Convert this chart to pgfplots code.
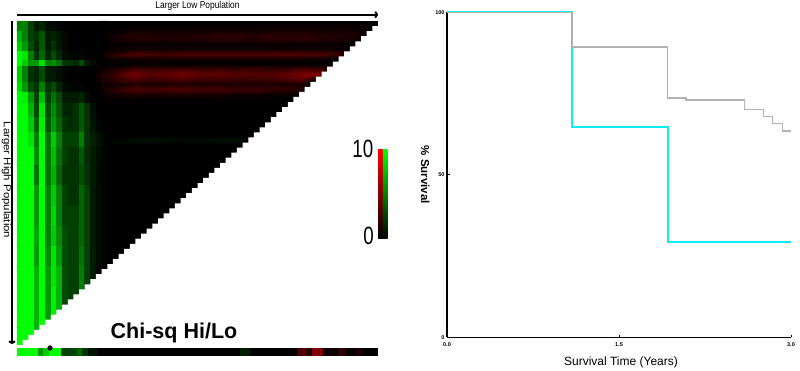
\documentclass[border=0pt]{standalone}
\usepackage{pgfplots}
\usepackage{fontspec}
\usepackage{graphicx}
\usetikzlibrary{arrows.meta}
\setmainfont{Liberation Sans}
\definecolor{cy}{RGB}{15,235,240}
\definecolor{gy}{RGB}{178,178,178}
\definecolor{rd}{RGB}{255,0,0}
\definecolor{gn}{RGB}{0,255,0}
\pgfplotsset{compat=1.18,
  colormap={gbr}{rgb255=(0,255,0) rgb255=(0,0,0) rgb255=(255,0,0)},
  colormap name=gbr}
\begin{document}
\begin{tikzpicture}[x=1pt,y=1pt]
\path[use as bounding box] (0,0) rectangle (800,371);
% heat map
\begin{axis}[at={(17pt,26pt)},anchor=south west,scale only axis,width=361pt,height=324pt,
  hide axis,xmin=-0.5,xmax=63.5,ymin=-0.5,ymax=63.5,y dir=reverse,clip=false,
  point meta min=-10,point meta max=10]
\addplot[fill=black,draw=none] coordinates {(-.5,-.5)(63.5,-.5)(63.5,63.5)(-.5,63.5)};
\addplot[matrix plot*,mesh/cols=16,point meta=explicit] table[row sep=crcr,x=x,y=y,meta=v]{
x y v\\
0 0.5 -5\\1 0.5 -5\\2 0.5 -2.5\\3 0.5 -1\\4 0.5 -1.5\\5 0.5 -.5\\6 0.5 -.5\\7 0.5 -.2\\8 0.5 0\\9 0.5 0\\10 0.5 0\\11 0.5 0\\12 0.5 0\\13 0.5 0\\14 0.5 0\\15 0.5 0\\
0 2.5 -7\\1 2.5 -5\\2 2.5 -2.5\\3 2.5 -2\\4 2.5 -3.5\\5 2.5 -1\\6 2.5 -1.5\\7 2.5 -.8\\8 2.5 -.3\\9 2.5 0\\10 2.5 0\\11 2.5 0\\12 2.5 0\\13 2.5 0\\14 2.5 0\\15 2.5 0\\
0 4.5 -8\\1 4.5 -6\\2 4.5 -3\\3 4.5 -1.5\\4 4.5 -3.5\\5 4.5 -1\\6 4.5 -2\\7 4.5 -1\\8 4.5 -.3\\9 4.5 0\\10 4.5 0\\11 4.5 0\\12 4.5 0\\13 4.5 0\\14 4.5 0\\15 4.5 0\\
0 6.5 -10\\1 6.5 -9\\2 6.5 -5\\3 6.5 -2\\4 6.5 -4\\5 6.5 -1.5\\6 6.5 -3\\7 6.5 -1.5\\8 6.5 -.5\\9 6.5 -.2\\10 6.5 -.2\\11 6.5 -.3\\12 6.5 0\\13 6.5 0\\14 6.5 0\\15 6.5 .3\\
0 8 -10\\1 8 -8\\2 8 -6\\3 8 -6\\4 8 -9\\5 8 -5\\6 8 -5.5\\7 8 -4.5\\8 8 -2\\9 8 -2\\10 8 -1.5\\11 8 -3\\12 8 -1\\13 8 -.5\\14 8 -.2\\15 8 0\\
0 9 -8\\1 9 -5\\2 9 -2\\3 9 -1.5\\4 9 -3\\5 9 -1\\6 9 -1\\7 9 -.5\\8 9 -.2\\9 9 0\\10 9 0\\11 9 0\\12 9 0\\13 9 0\\14 9 .3\\15 9 .5\\
0 10.5 -8\\1 10.5 -5\\2 10.5 -2\\3 10.5 -1.5\\4 10.5 -3\\5 10.5 -1\\6 10.5 -1\\7 10.5 -.5\\8 10.5 -.2\\9 10.5 0\\10 10.5 0\\11 10.5 0\\12 10.5 0\\13 10.5 0\\14 10.5 .5\\15 10.5 1.5\\
0 12.5 -8.5\\1 12.5 -6\\2 12.5 -3\\3 12.5 -2\\4 12.5 -5\\5 12.5 -2\\6 12.5 -3\\7 12.5 -1.5\\8 12.5 -.5\\9 12.5 -.2\\10 12.5 -.2\\11 12.5 -.2\\12 12.5 0\\13 12.5 0\\14 12.5 0\\15 12.5 .8\\
0 14.5 -10\\1 14.5 -9.5\\2 14.5 -6\\3 14.5 -2.5\\4 14.5 -7.5\\5 14.5 -2.5\\6 14.5 -4.5\\7 14.5 -3\\8 14.5 -1\\9 14.5 -1\\10 14.5 -1\\11 14.5 -1.5\\12 14.5 -.5\\13 14.5 0\\14 14.5 0\\15 14.5 0\\
0 17 -10\\1 17 -10\\2 17 -7\\3 17 -3\\4 17 -9\\5 17 -3\\6 17 -5.5\\7 17 -3.5\\8 17 -1.5\\9 17 -1.5\\10 17 -2\\11 17 -3.5\\12 17 -2\\13 17 -.5\\14 17 0\\15 17 0\\
0 20 -10\\1 20 -10\\2 20 -8\\3 20 -4\\4 20 -9.5\\5 20 -3.5\\6 20 -6\\7 20 -4\\8 20 -2\\9 20 -1.8\\10 20 -2\\11 20 -3.5\\12 20 -2\\13 20 -.7\\14 20 -.2\\15 20 0\\
0 23 -10\\1 23 -10\\2 23 -9\\3 23 -5\\4 23 -10\\5 23 -4.5\\6 23 -8\\7 23 -5\\8 23 -2.5\\9 23 -2.5\\10 23 -2.5\\11 23 -5\\12 23 -2\\13 23 -1.2\\14 23 -.7\\15 23 -.4\\
0 26 -10\\1 26 -10\\2 26 -10\\3 26 -5.5\\4 26 -10\\5 26 -4.5\\6 26 -7.5\\7 26 -4.5\\8 26 -2.5\\9 26 -2\\10 26 -2\\11 26 -3.5\\12 26 -1.8\\13 26 -1\\14 26 -.5\\15 26 -.2\\
0 30 -10\\1 30 -10\\2 30 -10\\3 30 -4.5\\4 30 -10\\5 30 -4.5\\6 30 -7\\7 30 -4\\8 30 -2\\9 30 -2\\10 30 -2\\11 30 -3\\12 30 -2\\13 30 -1\\14 30 -.4\\15 30 -.1\\
0 34 -10\\1 34 -10\\2 34 -10\\3 34 -6\\4 34 -10\\5 34 -5\\6 34 -8\\7 34 -5\\8 34 -2.5\\9 34 -2\\10 34 -2\\11 34 -4\\12 34 -2.5\\13 34 -1\\14 34 -.5\\15 34 -.1\\
0 38 -10\\1 38 -10\\2 38 -10\\3 38 -6\\4 38 -10\\5 38 -5\\6 38 -8.5\\7 38 -5\\8 38 -2.5\\9 38 -2.5\\10 38 -2.5\\11 38 -4\\12 38 -2.5\\13 38 -1\\14 38 -.5\\15 38 -.1\\
0 42 -10\\1 42 -10\\2 42 -10\\3 42 -6.5\\4 42 -10\\5 42 -5\\6 42 -8\\7 42 -5.5\\8 42 -3\\9 42 -2.5\\10 42 -2.5\\11 42 -4\\12 42 -2.5\\13 42 -1\\14 42 -.5\\15 42 -.1\\
0 46 -10\\1 46 -10\\2 46 -10\\3 46 -6\\4 46 -10\\5 46 -5.5\\6 46 -9\\7 46 -6\\8 46 -3\\9 46 -2.5\\10 46 -2.5\\11 46 -4.5\\12 46 -2.5\\13 46 -1\\14 46 -.5\\15 46 -.1\\
0 50 -10\\1 50 -10\\2 50 -10\\3 50 -7\\4 50 -10\\5 50 -6\\6 50 -9\\7 50 -7\\8 50 -3\\9 50 -2.5\\10 50 -2.5\\11 50 -5\\12 50 -2.5\\13 50 -1\\14 50 0\\15 50 0\\
0 54 -10\\1 54 -10\\2 54 -10\\3 54 -7\\4 54 -10\\5 54 -6\\6 54 -9.5\\7 54 -7\\8 54 -3\\9 54 -2.5\\10 54 -2.5\\11 54 -5\\12 54 0\\13 54 0\\14 54 0\\15 54 0\\
0 58 -10\\1 58 -10\\2 58 -10\\3 58 -7\\4 58 -10\\5 58 -6\\6 58 -9.5\\7 58 -7\\8 58 -3\\9 58 -2.5\\10 58 -2.5\\11 58 -5\\12 58 0\\13 58 0\\14 58 0\\15 58 0\\
0 62 -10\\1 62 -10\\2 62 -10\\3 62 -7\\4 62 -10\\5 62 -6\\6 62 -9.5\\7 62 -7\\8 62 -3\\9 62 -2.5\\10 62 -2.5\\11 62 -5\\12 62 0\\13 62 0\\14 62 0\\15 62 0\\
};
\addplot[surf,shader=interp,mesh/cols=16,point meta=explicit] table[row sep=crcr,x=x,y=y,meta=v]{
x y v\\
15 0 0\\20 0 .1\\23 0 .1\\26 0 .2\\29 0 .2\\32 0 .2\\35 0 .2\\38 0 .2\\41 0 .2\\44 0 .3\\47 0 .3\\50 0 .3\\53 0 .3\\56 0 .3\\59 0 .3\\62 0 .3\\
15 1 0\\20 1 .4\\23 1 .4\\26 1 .4\\29 1 .4\\32 1 .4\\35 1 .5\\38 1 .5\\41 1 .5\\44 1 .6\\47 1 .6\\50 1 .6\\53 1 .6\\56 1 .5\\59 1 .5\\62 1 .3\\
15 2 .3\\20 2 1.2\\23 2 1.2\\26 2 1\\29 2 1.1\\32 2 1.2\\35 2 1.5\\38 2 1.5\\41 2 1.3\\44 2 1.5\\47 2 1.5\\50 2 1.5\\53 2 1.3\\56 2 1.2\\59 2 1\\62 2 .5\\
15 3 .3\\20 3 1.2\\23 3 1.2\\26 3 1\\29 3 1.1\\32 3 1.2\\35 3 1.5\\38 3 1.5\\41 3 1.3\\44 3 1.5\\47 3 1.5\\50 3 1.5\\53 3 1.3\\56 3 1.2\\59 3 .8\\62 3 0\\
15 4 0\\20 4 .3\\23 4 .3\\26 4 .3\\29 4 .3\\32 4 .3\\35 4 .3\\38 4 .3\\41 4 .3\\44 4 .4\\47 4 .4\\50 4 .3\\53 4 .3\\56 4 .3\\59 4 0\\62 4 0\\
15 5 .2\\20 5 .6\\23 5 .6\\26 5 .5\\29 5 .5\\32 5 .6\\35 5 .6\\38 5 .6\\41 5 .6\\44 5 .6\\47 5 .7\\50 5 .6\\53 5 .6\\56 5 .5\\59 5 0\\62 5 0\\
15 6 1\\20 6 3\\23 6 2.8\\26 6 2.5\\29 6 3\\32 6 3\\35 6 3\\38 6 3\\41 6 3\\44 6 3\\47 6 3.2\\50 6 3\\53 6 3\\56 6 2.5\\59 6 0\\62 6 0\\
15 7 .2\\20 7 .6\\23 7 .6\\26 7 .6\\29 7 .6\\32 7 .6\\35 7 .6\\38 7 .6\\41 7 .6\\44 7 .6\\47 7 .6\\50 7 .6\\53 7 .5\\56 7 0\\59 7 0\\62 7 0\\
15 8 0\\20 8 .1\\23 8 .1\\26 8 .1\\29 8 .1\\32 8 .1\\35 8 .1\\38 8 .1\\41 8 .1\\44 8 .1\\47 8 .1\\50 8 .1\\53 8 .1\\56 8 0\\59 8 0\\62 8 0\\
15 9 .8\\20 9 2.6\\23 9 2.3\\26 9 2.3\\29 9 2.6\\32 9 2.3\\35 9 2.3\\38 9 2\\41 9 2.3\\44 9 2\\47 9 2\\50 9 2.8\\53 9 2.5\\56 9 0\\59 9 0\\62 9 0\\
15 10 1.2\\20 10 4.5\\23 10 3.6\\26 10 3.8\\29 10 4.5\\32 10 3.6\\35 10 3.8\\38 10 3.3\\41 10 3.3\\44 10 3.3\\47 10 3.8\\50 10 4.8\\53 10 5\\56 10 0\\59 10 0\\62 10 0\\
15 11 .8\\20 11 3\\23 11 2.3\\26 11 2.6\\29 11 3\\32 11 2.3\\35 11 2.6\\38 11 2.3\\41 11 2.3\\44 11 2.3\\47 11 2.8\\50 11 3.5\\53 11 0\\56 11 0\\59 11 0\\62 11 0\\
15 12 .5\\20 12 1.2\\23 12 1\\26 12 1\\29 12 1.2\\32 12 1\\35 12 1\\38 12 1\\41 12 1\\44 12 1\\47 12 1\\50 12 1\\53 12 0\\56 12 0\\59 12 0\\62 12 0\\
15 13 1\\20 13 3\\23 13 2.6\\26 13 3\\29 13 3\\32 13 2.6\\35 13 2.6\\38 13 2.2\\41 13 2.2\\44 13 2.2\\47 13 1.8\\50 13 1.5\\53 13 0\\56 13 0\\59 13 0\\62 13 0\\
15 14 .4\\20 14 1.2\\23 14 1\\26 14 1\\29 14 1.2\\32 14 1\\35 14 1\\38 14 .8\\41 14 .8\\44 14 .5\\47 14 .5\\50 14 .3\\53 14 0\\56 14 0\\59 14 0\\62 14 0\\
15 15 .1\\20 15 .3\\23 15 .2\\26 15 .2\\29 15 .2\\32 15 .2\\35 15 .1\\38 15 .1\\41 15 .1\\44 15 0\\47 15 0\\50 15 0\\53 15 0\\56 15 0\\59 15 0\\62 15 0\\
15 16 0\\20 16 0\\23 16 0\\26 16 0\\29 16 0\\32 16 0\\35 16 0\\38 16 0\\41 16 0\\44 16 0\\47 16 0\\50 16 0\\53 16 0\\56 16 0\\59 16 0\\62 16 0\\
15 22 0\\20 22 0\\23 22 0\\26 22 0\\29 22 0\\32 22 0\\35 22 0\\38 22 0\\41 22 0\\44 22 0\\47 22 0\\50 22 0\\53 22 0\\56 22 0\\59 22 0\\62 22 0\\
15 23 0\\20 23 -.5\\23 23 -.6\\26 23 -.5\\29 23 -.3\\32 23 -.3\\35 23 -.5\\38 23 -.6\\41 23 -.2\\44 23 0\\47 23 0\\50 23 0\\53 23 0\\56 23 0\\59 23 0\\62 23 0\\
15 24 0\\20 24 0\\23 24 0\\26 24 0\\29 24 0\\32 24 0\\35 24 0\\38 24 0\\41 24 0\\44 24 0\\47 24 0\\50 24 0\\53 24 0\\56 24 0\\59 24 0\\62 24 0\\
};
% white staircase over the lower right
\addplot[const plot,fill=white,draw=none] coordinates {
(63.5,.5)(62.5,1.5)(61.5,2.5)(60.5,3.5)(59.5,4.5)(58.5,5.5)(57.5,6.5)(56.5,7.5)(55.5,8.5)(54.5,9.5)(53.5,10.5)(52.5,11.5)(51.5,12.5)(50.5,13.5)(49.5,14.5)(48.5,15.5)
(47.5,16.5)(46.5,17.5)(45.5,18.5)(44.5,19.5)(43.5,20.5)(42.5,21.5)(41.5,22.5)(40.5,23.5)(39.5,24.5)(38.5,25.5)(37.5,26.5)(36.5,27.5)(35.5,28.5)(34.5,29.5)(33.5,30.5)(32.5,31.5)
(31.5,32.5)(30.5,33.5)(29.5,34.5)(28.5,35.5)(27.5,36.5)(26.5,37.5)(25.5,38.5)(24.5,39.5)(23.5,40.5)(22.5,41.5)(21.5,42.5)(20.5,43.5)(19.5,44.5)(18.5,45.5)(17.5,46.5)(16.5,47.5)
(15.5,48.5)(14.5,49.5)(13.5,50.5)(12.5,51.5)(11.5,52.5)(10.5,53.5)(9.5,54.5)(8.5,55.5)(7.5,56.5)(6.5,57.5)(5.5,58.5)(4.5,59.5)(3.5,60.5)(2.5,61.5)(1.5,62.5)(0.5,63.5)
(-1,65)(65,65)(65,.5)};
\end{axis}
% strip below the triangle
\begin{axis}[at={(17pt,15pt)},anchor=south west,scale only axis,width=361pt,height=8pt,
  hide axis,xmin=17,xmax=378,ymin=0,ymax=1,
  point meta min=-10,point meta max=10,clip=false]
\addplot[mesh,shader=flat,line width=8pt,point meta=explicit] table[row sep=crcr,x=x,y=y,meta=v]{
x y v\\
17 .5 -10\\38 .5 -10\\38 .5 -6\\43 .5 -6\\43 .5 -8\\49 .5 -8\\49 .5 -10\\61 .5 -10\\61 .5 -2.5\\77 .5 -2.5\\77 .5 -4\\82 .5 -4\\82 .5 -2\\88 .5 -2\\88 .5 -.7\\98 .5 -.7\\98 .5 0\\240 .5 0\\240 .5 -1\\250 .5 -1\\250 .5 0\\297 .5 0\\297 .5 3\\307 .5 3\\307 .5 1\\312 .5 1\\312 .5 5\\323 .5 5\\323 .5 .5\\338 .5 .5\\338 .5 2\\345 .5 2\\345 .5 .3\\353 .5 .3\\353 .5 1\\363 .5 1\\363 .5 0\\378 .5 0\\
};
\addplot[only marks,mark=*,mark size=2.4pt,black] coordinates {(50,1)};
\end{axis}
% arrows and labels of the heat map
\draw[line width=2pt,-{To[length=3.5pt,width=7pt]}] (17,356.3) -- (378,356.3);
\draw[line width=2pt,-{To[length=3.5pt,width=7pt]}] (12,350) -- (12,27);
\node[font=\fontsize{10}{12}\selectfont] at (197.5,365) {\scalebox{.84}[1]{Larger Low Population}};
\node[rotate=-90,font=\fontsize{10}{12}\selectfont] at (6.5,191) {\scalebox{1.14}[1]{Larger High Population}};
\node[font=\bfseries\fontsize{21.5}{24}\selectfont] at (174,38.5) {Chi-sq Hi/Lo};
% colour bar
\fill[top color=rd,bottom color=black] (378,221) rectangle (382.8,132.7);
\fill[top color=gn,bottom color=black] (382.8,221) rectangle (387.5,132.7);
\node[anchor=east,inner sep=0pt,font=\fontsize{25}{28}\selectfont] at (373.5,222) {\scalebox{.75}[1]{10}};
\node[anchor=east,inner sep=0pt,font=\fontsize{25}{28}\selectfont] at (374,135) {\scalebox{.75}[1]{0}};
% survival curves
\begin{axis}[at={(447pt,33.7pt)},anchor=south west,scale only axis,width=344pt,height=325pt,
  xmin=0,xmax=3,ymin=0,ymax=100,axis x line*=bottom,axis y line*=left,
  axis line style={line width=1.5pt,-},tick style={line width=.8pt,black},
  major tick length=2.5pt,xtick={0,1.5,3},ytick={0,50,100},
  xticklabels={0.0,1.5,3.0},yticklabels={0,50,100},
  tick label style={font=\bfseries\fontsize{5.5}{6}\selectfont},
  xticklabel style={yshift=-1.5pt},yticklabel style={xshift=1pt},
  xlabel={Survival Time (Years)},ylabel={\% Survival},
  xlabel style={font=\fontsize{12}{14}\selectfont,yshift=-4pt,xshift=2pt},
  ylabel style={font=\bfseries\fontsize{11.5}{14}\selectfont,rotate=180,yshift=1pt},
  clip=false]
\addplot[cy,line width=1.8pt] coordinates {(0,100)(1.093,100)(1.093,64.8)(1.925,64.8)(1.925,29.3)(3,29.3)};
\addplot[gy,line width=1.3pt] coordinates {(0,100)(1.093,100)(1.093,89.3)(1.925,89.3)(1.925,73.6)(2.084,73.6)(2.084,73)(2.593,73)(2.593,70.1)(2.758,70.1)(2.758,67.9)(2.84,67.9)(2.84,65.8)(2.927,65.8)(2.927,63.5)(3,63.5)};
\end{axis}
\end{tikzpicture}
\end{document}
